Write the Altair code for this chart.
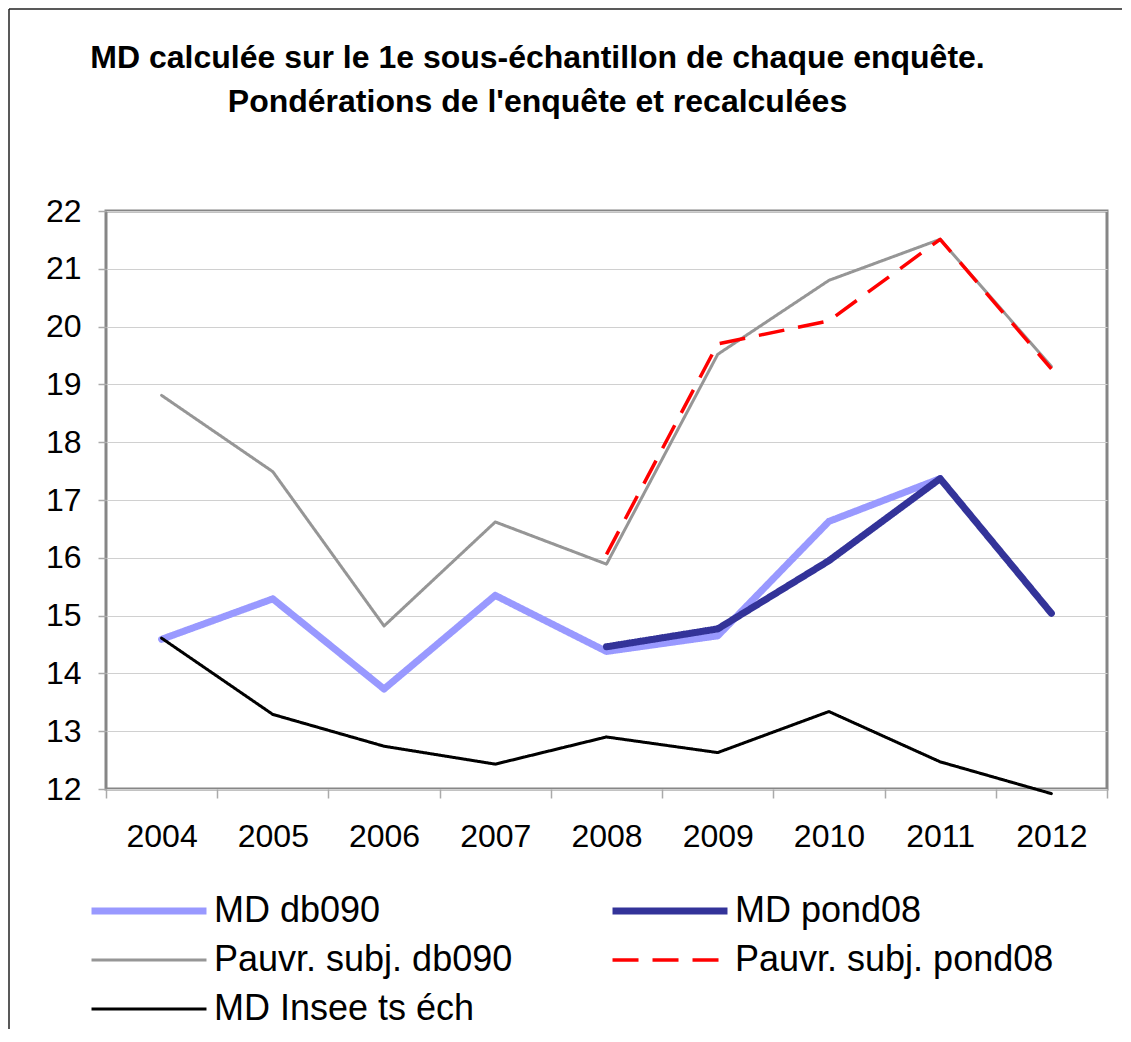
import altair as alt
import pandas as pd

years = [2004, 2005, 2006, 2007, 2008, 2009, 2010, 2011, 2012]
series_names = ["MD db090", "MD pond08", "Pauvr. subj. db090", "Pauvr. subj. pond08", "MD Insee ts éch"]

md_db090 = [14.59, 15.29, 13.73, 15.35, 14.38, 14.65, 16.63, 17.37, None]
md_pond08 = [None, None, None, None, 14.46, 14.77, 15.95, 17.37, 15.04]
pauvr_db090 = [18.81, 17.49, 14.82, 16.62, 15.89, 19.52, 20.80, 21.51, 19.31]
pauvr_pond08 = [None, None, None, None, 16.06, 19.70, 20.10, 21.51, 19.27]
md_insee = [14.61, 13.29, 12.74, 12.43, 12.90, 12.63, 13.34, 12.47, 11.92]

colors = ["#9999FF", "#333399", "#969696", "#FF0000", "#000000"]
widths = [7, 7, 3, 3.5, 3]
dashes = [[1, 0], [1, 0], [1, 0], [26, 14], [1, 0]]
caps = ["round", "round", "round", "butt", "round"]

title_lines = ["MD calculée sur le 1e sous-échantillon de chaque enquête.",
               "Pondérations de l'enquête et recalculées"]

x_ticks = [2003.5 + 0.5 * i for i in range(19)]
y_ticks = list(range(12, 23))

rows = []
for name, vals in zip(series_names, [md_db090, md_pond08, pauvr_db090, pauvr_pond08, md_insee]):
    for yr, v in zip(years, vals):
        if v is not None:
            rows.append({"year": yr, "value": v, "series": name})
df = pd.DataFrame(rows)

FONT = "Liberation Sans"

legend = alt.Legend(title=None, orient="none", legendX=20, legendY=677, columns=2,
                    direction="horizontal",
                    symbolType="M-3,0L3,0", symbolSize=1469, labelFontSize=36, labelFont=FONT,
                    labelColor="black", labelOffset=42, columnPadding=85, rowPadding=10,
                    labelLimit=0, padding=0)

x_enc = alt.X("year:Q", title=None,
              scale=alt.Scale(domain=[2003.5, 2012.5], nice=False, zero=False),
              axis=alt.Axis(values=x_ticks,
                            labelExpr="datum.value % 1 == 0 ? format(datum.value, 'd') : ''",
                            tickOpacity={"condition": {"test": "datum.value % 1 != 0", "value": 1}, "value": 0},
                            labelOverlap=False, labelBound=False, labelFlush=False,
                            tickSize=9, labelPadding=23, labelFontSize=32, grid=False))
y_enc = alt.Y("value:Q", title=None,
              scale=alt.Scale(domain=[12, 22], nice=False, zero=False),
              axis=alt.Axis(values=y_ticks, tickSize=8, labelPadding=17, labelFontSize=32,
                            grid=True, gridColor="#d0d0d0", gridWidth=1))

layers = []
for name, cap in zip(series_names, caps):
    layers.append(
        alt.Chart(df).transform_filter(alt.datum.series == name)
        .mark_line(strokeJoin="round", strokeCap=cap)
        .encode(
            x=x_enc, y=y_enc,
            color=alt.Color("series:N", scale=alt.Scale(domain=series_names, range=colors), legend=legend),
            strokeDash=alt.StrokeDash("series:N", scale=alt.Scale(domain=series_names, range=dashes), legend=legend),
            strokeWidth=alt.StrokeWidth("series:N", scale=alt.Scale(type="ordinal", domain=series_names, range=widths), legend=legend),
        )
    )

one = pd.DataFrame({"a": [0]})
border_left = alt.Chart(one).mark_rule(color="#222222", strokeWidth=1.5).encode(
    x=alt.value(-97), y=alt.value(-202), y2=alt.value(818))
border_top = alt.Chart(one).mark_rule(color="#222222", strokeWidth=1.5).encode(
    x=alt.value(-97), x2=alt.value(1016), y=alt.value(-202))

chart = alt.layer(border_left, border_top, *layers).properties(
    width=1001, height=578, padding=0,
    title=alt.TitleParams(text=title_lines, font=FONT, fontSize=32, fontWeight="bold",
                          color="black", anchor="middle", dx=-69, lineHeight=44, offset=-111)
).configure_view(stroke="#868686", strokeWidth=3
).configure_axis(labelFont=FONT, labelColor="black", domain=False, tickColor="#aaaaaa", tickWidth=1.5)

chart.save("out.html", embed_options={"renderer": "svg", "actions": False})
